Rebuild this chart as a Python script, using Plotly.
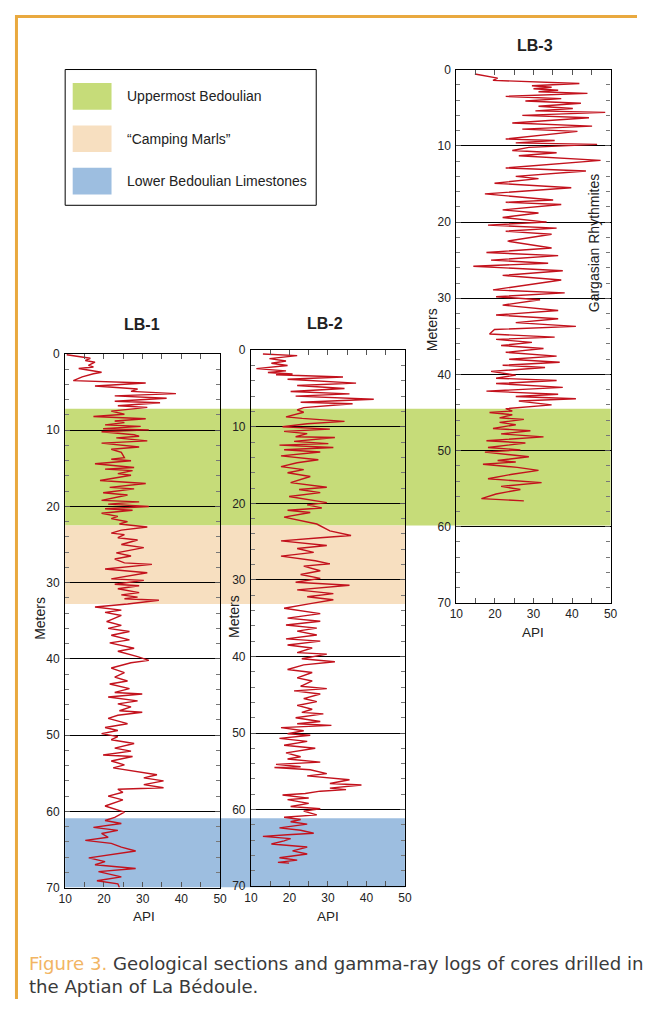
import plotly.graph_objects as go

# page is 652x1014; the browser body keeps its default 8px margin,
# so the figure itself is 636x998 and page pixels are shifted by OFF.
PAGE_W, PAGE_H, OFF = 652, 1014, 8
FW, FH = PAGE_W - 2 * OFF, PAGE_H - 2 * OFF

# ---------------- data ----------------
lb1_depth = [0.1, 0.56, 0.86, 1.08, 1.5, 1.7, 1.9, 2.4, 2.6, 3.0, 3.5, 3.8, 4.2, 4.6, 4.9, 5.2, 5.5, 5.8, 6.2, 6.4,
             6.8, 7.0, 7.5, 7.9, 8.2, 8.5, 8.8, 9.0, 9.3, 9.5, 9.8, 9.95, 10.2, 10.6, 10.8, 11.0, 11.4, 11.7, 12.2, 12.5,
             12.9, 13.6, 13.8, 14.0, 14.4, 14.7, 14.9, 15.1, 15.3, 15.7, 15.9, 16.6, 17.0, 17.5, 17.7, 18.2, 18.5, 19.2, 19.4, 19.7,
             20.0, 20.3, 20.5, 20.9, 21.3, 21.6, 22.0, 22.3, 22.7, 23.1, 23.5, 23.7, 24.1, 24.4, 25.0, 25.4, 26.1, 26.5, 26.9, 27.4,
             27.6, 28.2, 28.7, 29.5, 29.7, 30.2, 30.4, 30.8, 31.3, 31.6, 31.9, 32.1, 32.3, 32.8, 33.2, 33.6, 33.9, 34.3, 35.1, 35.6,
             36.0, 36.4, 36.9, 37.5, 37.9, 38.6, 39.0, 39.7, 40.2, 40.5, 41.2, 41.8, 42.4, 42.9, 43.3, 43.9, 44.4, 44.6, 45.0, 45.5,
             45.9, 46.3, 46.8, 47.0, 47.4, 47.8, 48.5, 49.0, 49.4, 49.8, 50.2, 50.6, 51.1, 51.7, 52.1, 52.6, 52.8, 53.4, 53.9, 54.3,
             54.8, 55.2, 55.6, 56.0, 56.5, 56.9, 57.1, 57.5, 58.0, 58.5, 59.3, 60.1, 60.8, 61.2, 61.6, 62.1, 62.5, 62.9, 63.4, 63.8,
             64.2, 64.7, 65.2, 65.7, 66.1, 66.6, 67.0, 67.5, 67.9, 68.6, 69.1, 69.5, 70.0]
lb1_api = [10.4, 16.5, 15.2, 17.7, 16.0, 17.3, 13.5, 19.4, 17.3, 14.4, 12.1, 30.8, 17.7, 28.7, 27.0, 38.6, 22.8, 36.2, 22.8, 34.5,
           23.6, 31.2, 21.9, 25.3, 17.3, 30.8, 22.8, 25.3, 20.3, 29.5, 19.8, 31.6, 19.4, 27.8, 29.1, 23.2, 31.2, 19.4, 29.1, 21.9,
           24.5, 25.3, 21.9, 27.0, 17.7, 22.8, 27.8, 20.3, 27.4, 23.6, 27.0, 19.0, 30.8, 21.5, 27.8, 19.8, 26.1, 19.4, 29.1, 21.1,
           31.6, 20.3, 27.4, 19.4, 23.6, 21.9, 26.1, 24.0, 31.2, 24.5, 21.9, 25.3, 23.6, 28.7, 24.5, 30.3, 23.2, 27.0, 22.8, 25.3,
           32.4, 20.3, 31.2, 21.9, 30.3, 22.8, 29.1, 23.6, 29.1, 24.5, 28.7, 25.3, 34.2, 26.1, 17.7, 24.5, 20.3, 24.5, 20.7, 24.5,
           21.1, 26.6, 21.9, 26.6, 21.5, 27.8, 23.6, 28.7, 31.6, 27.0, 21.9, 25.3, 22.8, 26.1, 21.5, 26.6, 22.8, 29.9, 21.1, 28.7,
           23.6, 27.0, 24.0, 29.9, 23.6, 21.1, 26.1, 20.3, 23.6, 19.4, 23.6, 21.9, 27.8, 22.8, 27.0, 19.8, 27.4, 21.9, 25.3, 22.4,
           28.7, 33.7, 30.3, 35.4, 30.3, 35.4, 23.6, 24.9, 21.1, 24.9, 20.3, 25.3, 22.8, 20.3, 24.5, 17.3, 23.6, 19.4, 21.1, 15.2,
           21.9, 24.5, 28.2, 21.9, 16.1, 20.3, 17.7, 28.2, 18.6, 24.5, 18.2, 23.6, 24.0]

lb2_depth = [0.5, 0.7, 1.1, 1.4, 1.7, 2.0, 2.4, 2.7, 2.9, 3.1, 3.2, 3.5, 3.8, 4.3, 4.6, 5.0, 5.4, 5.7, 6.0, 6.4,
             6.8, 7.0, 7.5, 7.8, 8.1, 8.7, 8.9, 9.3, 9.6, 10.0, 10.3, 10.6, 10.9, 11.3, 11.4, 11.9, 12.2, 12.4, 12.7, 13.0,
             13.3, 13.8, 14.3, 14.7, 15.2, 15.6, 16.0, 16.5, 17.3, 17.6, 17.9, 18.2, 18.6, 19.1, 19.9, 20.2, 20.6, 20.9, 21.2, 21.8,
             22.3, 22.7, 23.6, 24.2, 24.5, 24.9, 25.5, 25.9, 26.4, 26.9, 27.5, 27.9, 28.2, 28.8, 29.3, 29.8, 30.3, 30.7, 31.3, 31.8,
             32.2, 32.6, 33.1, 33.7, 34.4, 35.0, 35.4, 35.9, 36.3, 36.7, 37.2, 37.7, 38.0, 38.5, 38.9, 39.5, 39.7, 40.3, 40.7, 41.1,
             41.7, 42.1, 42.8, 43.2, 43.9, 44.2, 44.5, 44.9, 45.5, 45.9, 46.4, 46.9, 47.3, 47.5, 48.0, 48.5, 48.8, 49.0, 49.3, 49.7,
             50.1, 50.3, 50.7, 51.1, 51.6, 52.0, 52.6, 53.1, 53.4, 53.8, 54.1, 54.4, 54.5, 54.8, 55.3, 55.6, 56.1, 56.6, 56.8, 57.2,
             57.4, 57.6, 57.9, 58.1, 58.5, 58.7, 59.2, 59.6, 59.9, 60.2, 60.7, 61.0, 61.3, 61.6, 61.9, 62.4, 62.7, 63.1, 63.3, 63.5,
             63.8, 64.1, 64.5, 64.9, 65.4, 65.8, 66.3, 66.6, 66.9, 67.0]
lb2_api = [13.1, 22.0, 14.8, 19.1, 15.3, 19.5, 11.4, 19.1, 14.4, 20.8, 16.5, 33.9, 19.5, 37.3, 22.0, 34.3, 20.3, 35.6, 21.6, 41.9,
           22.9, 36.4, 23.7, 22.0, 23.7, 19.1, 23.3, 34.3, 24.6, 18.2, 30.5, 18.6, 24.6, 21.6, 31.8, 21.2, 30.1, 17.4, 31.4, 18.6,
           28.0, 17.8, 27.5, 22.0, 17.8, 23.7, 19.5, 25.4, 20.3, 25.4, 29.7, 22.5, 28.0, 19.9, 29.7, 24.6, 28.4, 19.5, 25.4, 18.6,
           22.9, 27.1, 30.5, 36.0, 28.0, 17.8, 29.7, 22.0, 26.3, 17.8, 26.7, 30.5, 23.7, 28.0, 22.9, 28.0, 21.6, 35.6, 22.0, 31.4,
           24.6, 31.4, 25.4, 18.6, 28.0, 19.5, 28.0, 19.1, 27.1, 22.0, 27.1, 19.1, 28.0, 19.5, 25.9, 22.0, 29.7, 23.2, 31.8, 23.7,
           19.5, 25.9, 22.0, 25.9, 22.9, 29.7, 21.2, 28.0, 23.7, 27.1, 22.0, 25.9, 23.2, 28.8, 21.6, 28.0, 22.0, 30.9, 17.8, 23.7,
           19.5, 25.4, 17.4, 24.6, 18.6, 26.7, 19.1, 22.9, 19.5, 28.0, 16.5, 22.9, 16.1, 25.4, 29.7, 24.6, 35.6, 30.5, 38.7, 30.5,
           34.7, 28.0, 24.1, 18.2, 25.0, 19.5, 25.0, 20.3, 28.0, 23.7, 27.1, 18.6, 22.9, 20.3, 24.6, 17.4, 22.9, 26.3, 19.5, 13.1,
           20.3, 18.6, 15.3, 24.6, 20.8, 24.6, 17.4, 22.0, 17.0, 19.9]

lb3_depth = [0.56, 0.86, 1.1, 1.4, 1.8, 2.1, 2.3, 2.5, 2.7, 2.9, 3.1, 3.5, 3.8, 4.1, 4.4, 4.8, 5.1, 5.4, 5.6, 6.0,
             6.3, 7.0, 7.4, 7.8, 8.1, 9.1, 9.3, 9.6, 9.8, 10.2, 10.6, 10.9, 11.3, 11.9, 12.9, 13.3, 14.0, 14.3, 14.9, 15.5,
             16.3, 17.1, 17.4, 17.7, 18.4, 18.8, 19.4, 20.0, 20.4, 20.8, 21.2, 21.6, 22.5, 23.4, 24.0, 24.4, 25.0, 25.4, 25.8, 26.4,
             27.0, 27.6, 28.9, 29.3, 29.8, 30.2, 30.9, 31.6, 32.2, 32.7, 33.2, 33.7, 34.1, 34.7, 35.1, 35.4, 35.8, 36.2, 36.6, 37.1,
             37.6, 38.0, 38.4, 38.8, 39.1, 39.6, 40.1, 40.5, 40.8, 41.2, 41.7, 42.2, 42.6, 42.9, 43.2, 43.5, 44.0, 44.5, 44.8, 45.0,
             45.3, 45.7, 45.9, 46.3, 46.6, 47.1, 47.4, 47.8, 48.2, 48.7, 49.0, 49.6, 49.9, 50.2, 50.8, 51.3, 51.5, 51.8, 52.2, 52.6,
             53.1, 53.7, 54.2, 54.7, 55.1, 55.7, 56.3, 56.6]
lb3_api = [14.8, 18.2, 20.7, 19.5, 41.9, 29.6, 34.7, 30.0, 36.4, 31.3, 44.0, 22.8, 37.2, 27.9, 42.3, 31.3, 40.2, 30.5, 48.6, 27.1,
           44.4, 24.5, 45.2, 27.1, 41.4, 22.8, 35.5, 25.4, 46.5, 28.8, 24.5, 36.0, 26.2, 47.4, 22.8, 43.6, 25.4, 31.3, 19.9, 39.8,
           17.4, 35.1, 22.8, 37.2, 22.0, 31.3, 22.0, 33.4, 18.2, 36.0, 22.8, 34.7, 23.3, 34.7, 17.8, 36.4, 19.0, 33.8, 14.4, 37.6,
           22.0, 37.2, 19.5, 38.1, 20.3, 31.7, 22.0, 36.4, 20.3, 36.4, 25.4, 41.0, 19.9, 18.6, 35.5, 20.3, 29.6, 21.6, 32.6, 22.8,
           36.0, 23.7, 36.8, 22.0, 33.0, 19.0, 25.4, 20.3, 36.0, 20.3, 37.6, 17.8, 36.4, 25.4, 41.0, 26.2, 34.7, 22.8, 24.5, 18.6,
           24.5, 21.2, 27.5, 21.2, 25.4, 19.5, 29.2, 21.6, 32.6, 17.8, 27.9, 18.2, 26.6, 17.4, 28.8, 20.7, 25.4, 16.9, 25.8, 31.3,
           24.5, 18.2, 32.1, 21.6, 26.6, 20.3, 16.5, 27.5]

wells = ["LB-1", "LB-2", "LB-3"]
well_depths = [lb1_depth, lb2_depth, lb3_depth]
well_api = [lb1_api, lb2_api, lb3_api]

# stratigraphic intervals (depth in LB-1 metres)
band_names = ["Uppermost Bedoulian", "\u201cCamping Marls\u201d", "Lower Bedoulian Limestones"]
band_top = [7.2, 22.5, 60.9]
band_bottom = [22.5, 32.8, 70.0]
band_colors = ["#C6DC79", "#F7DFC0", "#9DBEE0"]

y_ticks = [0, 10, 20, 30, 40, 50, 60, 70]
x_ticks = [10, 20, 30, 40, 50]

# ---------------- layout helpers (page pixels -> paper) ----------------
def px(x):
    return (x - OFF) / FW

def py(y):
    return 1 - (y - OFF) / FH

# panel boxes in page pixels: left, right, top, bottom
panels = [(59.3, 217.7, 351.8, 893.0), (249.3, 406.7, 348.0, 891.5), (459.3, 617.0, 63.5, 604.3)]
band_right = [617.0, 406.7, 406.7]

FONT = "Liberation Sans, Arial, sans-serif"
TXT = "#222222"
RED = "#C3121D"

fig = go.Figure()
for i, (name, d, a) in enumerate(zip(wells, well_depths, well_api)):
    sfx = "" if i == 0 else str(i + 1)
    fig.add_trace(go.Scatter(x=a, y=d, mode="lines", name=name,
                             line=dict(color=RED, width=1.4),
                             xaxis="x" + sfx, yaxis="y" + sfx, showlegend=False))

axis_common = dict(showline=True, linecolor="black", linewidth=1.2, mirror="ticks",
                   ticks="inside", ticklen=5, tickwidth=1, tickcolor="#555",
                   tickfont=dict(family=FONT, size=12, color=TXT), zeroline=False)

for i, (l, r, t, b) in enumerate(panels):
    sfx = "" if i == 0 else str(i + 1)
    fig.layout["xaxis" + sfx] = dict(
        domain=[px(l), px(r)], anchor="y" + sfx, range=[10, 50],
        tickvals=x_ticks, showgrid=False,
        minor=dict(dtick=5, ticks="inside", ticklen=5, tickcolor="#555", showgrid=False),
        **axis_common)
    fig.layout["yaxis" + sfx] = dict(
        domain=[py(b), py(t)], anchor="x" + sfx, range=[70, 0],
        tickvals=y_ticks, showgrid=True, gridcolor="black", gridwidth=1.4,
        ticklabelstandoff=2,
        minor=dict(dtick=2, ticks="inside", ticklen=4, tickcolor="#777", showgrid=False),
        **axis_common)

shapes = []
# stratigraphic bands (drawn in LB-1 depth units, spanning across panels)
for nm, t0, t1, c, xr in zip(band_names, band_top, band_bottom, band_colors, band_right):
    shapes.append(dict(type="rect", xref="paper", yref="y", x0=px(59.3), x1=px(xr),
                       y0=t0, y1=t1, fillcolor=c, line=dict(width=0), layer="below"))

# legend box
shapes.append(dict(type="rect", xref="paper", yref="paper", x0=px(59.3), x1=px(316),
                   y0=py(201), y1=py(63.3), line=dict(color="black", width=1), fillcolor="rgba(0,0,0,0)"))
leg_y = [90.5, 133.5, 176.5]
annotations = []
for nm, c, yc in zip(band_names, band_colors, leg_y):
    shapes.append(dict(type="rect", xref="paper", yref="paper", x0=px(67), x1=px(106.7),
                       y0=py(yc + 13.5), y1=py(yc - 13.5), fillcolor=c, line=dict(width=0)))
    annotations.append(dict(text=nm, xref="paper", yref="paper", x=px(120), y=py(yc),
                            xanchor="left", yanchor="middle", showarrow=False,
                            font=dict(family=FONT, size=14, color=TXT)))

# orange frame
ORANGE = "#E9A93F"
shapes.append(dict(type="line", xref="paper", yref="paper", x0=px(9.5), x1=px(9.5), y0=py(8.0), y1=0,
                   line=dict(color=ORANGE, width=3)))
shapes.append(dict(type="line", xref="paper", yref="paper", x0=px(8.0), x1=1, y0=py(9.5), y1=py(9.5),
                   line=dict(color=ORANGE, width=3)))

# titles
for nm, xc, yc in zip(wells, [138, 325, 539.5], [322, 321, 38.5]):
    annotations.append(dict(text="<b>" + nm + "</b>", xref="paper", yref="paper", x=px(xc), y=py(yc),
                            xanchor="center", yanchor="middle", showarrow=False,
                            font=dict(family=FONT, size=16, color=TXT)))
# Meters labels
for xc, yc in zip([34, 232.5, 434], [620, 618, 327]):
    annotations.append(dict(text="Meters", xref="paper", yref="paper", x=px(xc), y=py(yc),
                            xanchor="center", yanchor="middle", textangle=-90, showarrow=False,
                            font=dict(family=FONT, size=14, color=TXT)))
# API labels
for xc, yc in zip([140, 328, 538], [922, 922, 634]):
    annotations.append(dict(text="API", xref="paper", yref="paper", x=px(xc), y=py(yc),
                            xanchor="center", yanchor="middle", showarrow=False,
                            font=dict(family=FONT, size=13.5, color=TXT)))
annotations.append(dict(text="Gargasian Rhythmites", xref="paper", yref="paper", x=px(599.5), y=py(239),
                        xanchor="center", yanchor="middle", textangle=-90, showarrow=False,
                        font=dict(family=FONT, size=14, color=TXT)))
# caption
CAP = "DejaVu Sans, sans-serif"
annotations.append(dict(text='<span style="color:#F2B563">Figure 3.</span> Geological sections and gamma-ray logs of cores drilled in',
                        xref="paper", yref="paper", x=px(20.5), y=py(970.3), xanchor="left", yanchor="middle",
                        showarrow=False, font=dict(family=CAP, size=18.1, color="#3A3A3A")))
annotations.append(dict(text="the Aptian of La B\u00e9doule.",
                        xref="paper", yref="paper", x=px(20.5), y=py(993), xanchor="left", yanchor="middle",
                        showarrow=False, font=dict(family=CAP, size=18.1, color="#3A3A3A")))

fig.update_layout(width=FW, height=FH, margin=dict(l=0, r=0, t=0, b=0), autosize=False,
                  paper_bgcolor="white", plot_bgcolor="rgba(0,0,0,0)",
                  shapes=shapes, annotations=annotations, showlegend=False)

fig.write_html("out.html", config={"displayModeBar": False})
